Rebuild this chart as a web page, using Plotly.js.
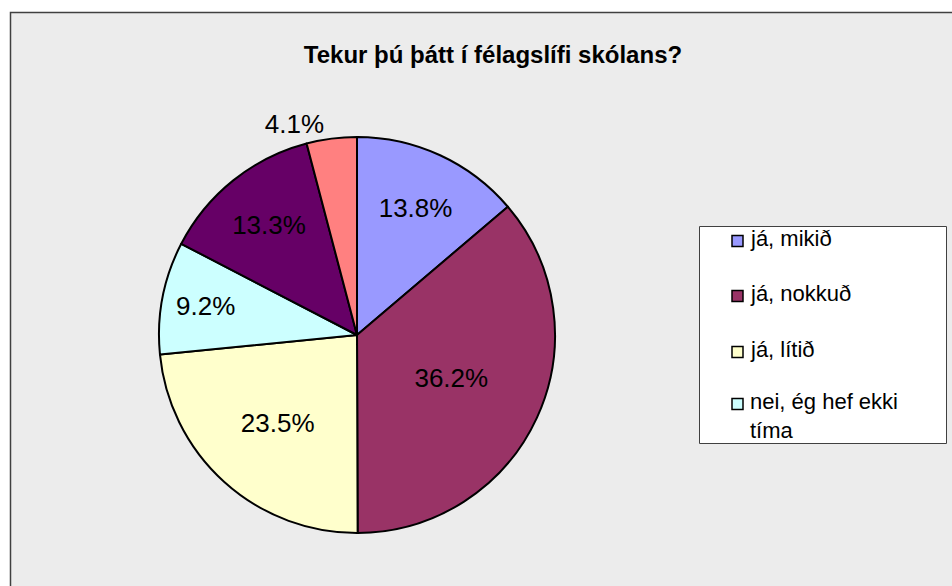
<!DOCTYPE html>
<html>
<head>
<meta charset="utf-8">
<script src="https://cdn.plot.ly/plotly-3.0.1.min.js"></script>
<style>html,body{margin:0;padding:0;background:#fff;}#chart{width:952px;height:586px;}</style>
</head>
<body>
<div id="chart"></div>
<script>
// ---- data ----
const categories = ['já, mikið', 'já, nokkuð', 'já, lítið', 'nei, ég hef ekki tíma', 'nei, ég hef ekki áhuga', 'annað'];
const values = [13.8, 36.2, 23.5, 9.2, 13.3, 4.1];
const sliceColors = ['#9999FF', '#993366', '#FFFFCC', '#CCFFFF', '#660066', '#FF8080'];
const textPositions = ['inside', 'inside', 'inside', 'inside', 'inside', 'outside'];
const legendText = ['já, mikið', 'já, nokkuð', 'já, lítið', 'nei, ég hef ekki<br>tíma'];
const titleText = 'Tekur þú þátt í félagslífi skólans?';

// ---- helpers (pixel -> paper) ----
const W = 952, H = 586;
const px = x => x / W;
const py = y => 1 - y / H;
const FONT = 'Liberation Sans, Arial, sans-serif';

const trace = {
  type: 'pie',
  labels: categories,
  values: values,
  sort: false,
  direction: 'clockwise',
  rotation: 0,
  marker: { colors: sliceColors, line: { color: '#000000', width: 2 } },
  texttemplate: '%{value:.1f}%',
  textposition: textPositions,
  insidetextorientation: 'horizontal',
  textfont: { family: FONT, size: 26, color: '#000000' },
  outsidetextfont: { family: FONT, size: 26, color: '#000000' },
  domain: { x: [px(158), px(556)], y: [py(533), py(137)] },
  showlegend: false,
  hoverinfo: 'label+percent'
};

const shapes = [
  { type: 'rect', xref: 'paper', yref: 'paper', x0: px(10.5), x1: 1.02, y0: -0.02, y1: py(12.5),
    fillcolor: '#ECECEC', line: { color: '#404040', width: 1.5 }, layer: 'below' },
  { type: 'rect', xref: 'paper', yref: 'paper', x0: px(699.5), x1: px(946.5), y0: py(443.5), y1: py(226.5),
    fillcolor: '#FFFFFF', line: { color: '#404040', width: 1 }, layer: 'below' }
];
const annotations = [];
const itemY = [241, 296, 352, 404];
legendText.forEach((txt, i) => {
  const cy = itemY[i];
  shapes.push({ type: 'rect', xref: 'paper', yref: 'paper', x0: px(732), x1: px(743), y0: py(cy + 5.5), y1: py(cy - 5.5),
    fillcolor: sliceColors[i], line: { color: '#000000', width: 1.5 } });
  annotations.push({ xref: 'paper', yref: 'paper', x: px(749), y: py(cy - 16), xanchor: 'left', yanchor: 'top',
    align: 'left', text: txt, showarrow: false, borderpad: 0,
    font: { family: FONT, size: 22, color: '#000000' } });
});

const layout = {
  width: W, height: H,
  margin: { l: 0, r: 0, t: 0, b: 0 },
  paper_bgcolor: '#FFFFFF',
  title: { text: titleText, x: px(493), xanchor: 'center', y: py(55), yanchor: 'middle',
           font: { family: FONT, size: 24, color: '#000000', weight: 'bold' } },
  shapes: shapes,
  annotations: annotations,
  showlegend: false
};

Plotly.newPlot('chart', [trace], layout, { displayModeBar: false, staticPlot: true });
</script>
</body>
</html>
